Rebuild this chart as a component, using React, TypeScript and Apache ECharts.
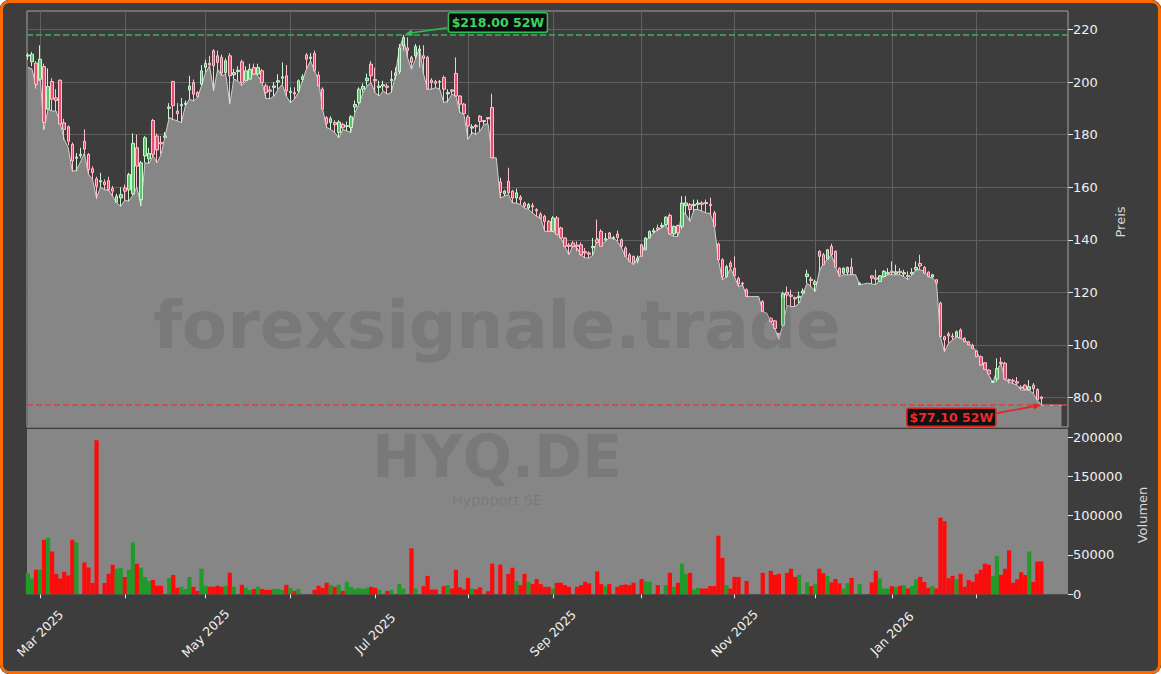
import React, { useEffect, useRef } from 'react';
import * as echarts from 'echarts';

// ---- x axis (trading-day index) ----
const monthTickIdx = [3, 24, 44, 65, 86, 109, 130, 152, 175, 195, 214, 235];
const labelIdx = [3, 44, 86, 130, 175, 214];
const labelText = ['Mar 2025', 'May 2025', 'Jul 2025', 'Sep 2025', 'Nov 2025', 'Jan 2026'];
const priceTicks = [80, 100, 120, 140, 160, 180, 200, 220];
const volTicks = [0, 50000, 100000, 150000, 200000];

// ---- price data ----
const openP = [
  209.9, 207.7, 207.2, 201.1, 205.9, 189.7, 200.2, 194, 200.7, 184.5,
  183, 176.3, 171, 172, 177.5, 172.5, 167, 163.2, 162, 162,
  162.5, 159.5, 154.3, 155.9, 159.7, 159, 157.5, 175, 155.3, 171.9,
  170.8, 185.4, 179.5, 177, 179, 190, 200.2, 189, 191, 191.5,
  197, 199.8, 196, 199.2, 205.6, 207.2, 211.9, 210, 209.4, 203.6,
  210, 202.8, 204, 207.7, 200.5, 201.1, 205.5, 203, 204.3, 198.6,
  197, 198, 200, 201.5, 202.4, 196, 196, 196.6, 201, 210.3,
  209, 210.9, 202.6, 197.3, 186.5, 184.6, 184.6, 180.8, 183.9, 183.1,
  182.7, 190.5, 192.2, 197.3, 200.5, 206.8, 201, 197.9, 198.5, 198.5,
  200.5, 202.5, 204, 213.8, 213, 209.4, 210, 212, 210, 209.4,
  200.7, 200.2, 200, 201.7, 195.5, 197, 203.3, 194.7, 191.6, 186.7,
  182.5, 183.5, 187, 185, 186.5, 190.3, 171.2, 162, 157.5, 162.3,
  158.5, 155.9, 156.2, 154, 152.1, 153, 151.5, 149.8, 148.9, 147,
  143.2, 148.3, 144.5, 140.7, 138, 138.8, 138, 138.1, 135.5, 135,
  137, 140, 143.2, 140, 142.6, 140.5, 142.2, 140, 136.9, 134.3,
  133.7, 132, 138.1, 136.2, 140.7, 143, 144.5, 145, 145.8, 149.3,
  142.2, 145.4, 145, 153, 153.4, 153, 153.5, 154, 154.2, 153.5,
  150.2, 138.4, 132.4, 126, 131.1, 129.2, 125.3, 123.5, 121, 118.4,
  118.4, 118.4, 116.5, 112.1, 110.2, 109.2, 104.4, 107.5, 120, 119,
  118, 118, 119.7, 126, 125, 123, 135.6, 134.3, 132.6, 137.5,
  135.6, 129.2, 127.3, 127.6, 129.6, 126.7, 122.9, 123.2, 123.5, 126.3,
  125.5, 124.1, 126, 127, 128, 127.2, 128, 127, 126.5, 127,
  128.6, 131, 129.5, 127.7, 125.8, 124.8, 115.9, 103.1, 104.2, 103.4,
  103.1, 105.7, 102.5, 101.2, 99.9, 97.7, 95.5, 93.2, 90.4, 85.8,
  87, 93.4, 93, 86.8, 86.5, 86, 84, 84.7, 82.9, 84.7,
  83, 80.2,
];
const closeP = [
  210.3, 210.6, 199.2, 208.7, 184.6, 198.3, 193.5, 193, 184, 182,
  177.5, 170, 171.5, 172.5, 174.5, 166.7, 165.5, 160.4, 162.5, 161,
  159.1, 158.5, 156.6, 157.2, 158.5, 164.8, 176.7, 168, 169.3, 178.8,
  172.8, 172.5, 174.2, 176.5, 179.5, 190.5, 191, 188, 191.5, 192,
  198.5, 195.4, 194.5, 204.3, 207.1, 206.5, 206.2, 207.5, 203.4, 208.1,
  202.4, 203.6, 204.5, 199.8, 204.3, 204.9, 203, 205.5, 199.8, 196,
  196.5, 198.5, 200.5, 202, 196.6, 196.5, 195.5, 200.5, 202, 208.7,
  209.5, 204.3, 198.6, 189.7, 184.3, 186.1, 183.8, 184.8, 182.6, 183.4,
  186.8, 191.5, 197.3, 198.3, 201.5, 202.4, 200.5, 198.5, 199, 198,
  201, 203.5, 213, 217, 212, 207.5, 213.5, 212.5, 209, 197.3,
  199.8, 199.5, 200.2, 197.3, 196, 196.5, 194.7, 191.6, 188, 183.3,
  183, 183, 185, 185.3, 186, 171.2, 171.2, 158, 158.5, 157.9,
  155.9, 157.9, 155.3, 152.8, 153.4, 152.5, 151, 148.1, 147, 143.2,
  148.3, 142, 140.7, 137.5, 137.5, 137.5, 137.5, 134.3, 135, 134.5,
  137.5, 139, 137.5, 140.5, 140.7, 140.8, 140.9, 137.5, 133.7, 131.8,
  131.1, 133, 133.7, 140.7, 143.2, 143.5, 144, 145.5, 148.6, 142.2,
  145.1, 142.6, 154, 154, 151.5, 153.5, 154, 153.5, 153.8, 153,
  145.1, 132.4, 126, 129.8, 129.6, 126.3, 123.2, 123.2, 118.4, 118.4,
  118.4, 118.4, 112.7, 112.1, 108.9, 106.3, 103.8, 119.5, 119, 118.5,
  117.5, 118.5, 120.5, 127, 124.5, 124, 133.7, 130.5, 136.2, 134.3,
  129.6, 126.7, 129.2, 129.5, 126.9, 126.7, 123.5, 123.2, 123.5, 125.4,
  125, 126.3, 128, 127.5, 127.5, 127.8, 127.5, 127.5, 126, 127.6,
  129.5, 130, 127.3, 126, 126.7, 123.5, 103.1, 101.9, 103.4, 103,
  105, 102.5, 101.2, 100, 98.7, 95.5, 92.3, 90.7, 88.9, 86,
  91, 93, 87, 86.5, 86.2, 85.5, 83.5, 83.1, 84.1, 83.4,
  79.2, 79.6,
];
const highP = [
  211, 211.5, 208, 214, 207, 205.2, 201.5, 197.3, 201, 186,
  183.5, 177, 173, 175, 182, 173, 168, 164, 165.5, 163,
  164, 160.5, 157.5, 160, 161, 165.5, 180.5, 180, 170, 179.5,
  175, 186, 180.5, 179.5, 181, 192, 200.5, 192, 194, 193,
  202.4, 201, 196.5, 206.5, 208.5, 210, 212.5, 212, 210.5, 209,
  211, 205, 206, 208.5, 206, 207, 207, 207, 205, 199.5,
  198.5, 200, 203, 207.5, 206.5, 198, 198, 201, 203, 211,
  211, 212, 204, 198, 187, 187, 185.5, 185.5, 184.5, 185,
  187.5, 193, 198, 199.5, 203.2, 208, 205.5, 200.5, 200.5, 199.5,
  204.3, 205.6, 214.5, 218, 217, 210, 214.5, 214, 214, 210,
  201.5, 200.8, 200.8, 202.5, 197.3, 197.3, 209.4, 195, 192, 187.5,
  184, 184, 187.5, 185.5, 186.5, 195.6, 171.2, 163.6, 159, 167.4,
  159, 159.5, 157, 154.5, 154, 154, 152, 150.5, 149.5, 147.5,
  149, 149, 145, 141, 138.8, 139.5, 139.4, 139, 136.9, 135.6,
  140.7, 147.7, 144, 142.6, 143, 141.5, 143.5, 140.5, 137.5, 135,
  134, 134, 138.5, 141, 143.5, 144.5, 145.8, 146.5, 149, 150,
  145.5, 145.8, 156.6, 156.6, 154, 155.3, 155.3, 154.7, 155.3, 156,
  151, 139, 133, 130.5, 132, 133.7, 126, 124, 121.5, 118.4,
  118.4, 118.4, 117, 112.1, 110.5, 109.5, 104.6, 120.3, 122.2, 121,
  118.4, 120.3, 121.5, 128.6, 126, 124.8, 136, 135, 136.5, 138.5,
  136, 129.5, 129.5, 129.8, 133, 126.7, 124, 123.2, 123.5, 126.5,
  128.6, 126.5, 128.5, 129.2, 131.8, 130.5, 129.2, 128.6, 128, 129.2,
  131.8, 134.3, 130, 128, 127, 125, 116.5, 103.5, 105, 104.5,
  105.5, 106.3, 103, 101.5, 100.5, 98, 96, 93.5, 90.8, 86.5,
  94.9, 95.3, 93.6, 87.2, 87.2, 87.8, 84.7, 85, 86.6, 85.5,
  83.5, 80.5,
];
const lowP = [
  208.5, 206, 197.5, 200.5, 181.8, 189.5, 189, 189, 184, 178,
  176, 166, 166, 171, 172, 165, 163, 155.5, 160, 159,
  158.5, 156.5, 154, 152.8, 155, 154.6, 157, 160, 152.8, 169.3,
  169, 171.5, 169.3, 172.5, 179, 186, 185.5, 185.2, 184.6, 190.9,
  193.5, 192.8, 194, 198.6, 203.6, 206, 196.6, 204.9, 202.4, 203,
  191.6, 201.1, 200.5, 198.6, 200.5, 201, 202.8, 202.4, 199.8, 193.7,
  193.7, 194.7, 197.3, 199.2, 194.7, 192.2, 193.5, 196, 200, 205,
  208, 204, 198.5, 189.7, 182.6, 182, 180.8, 178.8, 182, 181.4,
  180.8, 188.4, 191.5, 196, 198.6, 199.8, 196, 194.7, 196.7, 195.4,
  196, 201, 203, 212, 209.4, 204.9, 208.7, 205.5, 203, 197,
  197.3, 197.9, 197.3, 192.2, 192.2, 195.4, 194.5, 188.4, 187.7, 178.2,
  180, 180, 181.4, 184, 184, 171, 171.2, 155.9, 156.6, 157.2,
  154, 154, 153.4, 152.1, 151.5, 150.2, 148.9, 148, 143.2, 143,
  143, 141.8, 140.5, 137.3, 134.3, 137, 135.6, 134, 133, 133,
  134, 138.5, 137.5, 139.4, 140.5, 140, 139.4, 136.9, 133.5, 131.5,
  130.5, 131, 133.5, 136, 140.5, 142.5, 143.2, 144.5, 145.5, 142,
  141.3, 141.3, 144, 149.6, 147, 151, 151.5, 150.9, 150.2, 149.6,
  145, 132, 124.8, 125.5, 129, 126, 122.2, 122.5, 118.2, 118.4,
  118.4, 118.4, 112.5, 112.1, 108.7, 106, 102.1, 106.9, 115, 114.6,
  114.6, 115.9, 119.5, 123.5, 122.2, 120.3, 128, 130.4, 132.4, 134,
  129.6, 126, 126.7, 126.7, 126.7, 126.7, 122.8, 123.2, 123.5, 123.2,
  122.9, 124, 126, 126.7, 126.7, 126.7, 126.7, 126, 124.8, 126.7,
  128.6, 128.6, 127, 125.8, 125.4, 123.4, 103, 97.4, 100.6, 101.9,
  103, 102.4, 101, 99.8, 98.5, 95.4, 92.2, 90.5, 88.5, 85.6,
  86, 92.5, 86.6, 85.3, 85.3, 84.7, 82.8, 82.8, 82.8, 81.5,
  79, 77.1,
];
// grey area line (last values continue the flat 52W-low level)
const areaP = [
  205.6, 205, 198.5, 202.5, 182, 189.7, 189, 189, 184.3, 178.2,
  175, 166, 166.5, 169.5, 173, 165, 163, 156, 160, 159,
  159, 156.5, 154, 152.8, 155, 154.7, 157, 160, 153, 169.3,
  169, 172, 169.3, 172.5, 179.5, 186.5, 185.8, 185.2, 184.6, 190.9,
  193.5, 192.8, 194.1, 198.6, 203.6, 206.2, 196.6, 204.9, 202.4, 203,
  191.6, 201.1, 200.5, 198.6, 200.5, 201.7, 203.6, 202.4, 199.8, 193.7,
  193.7, 194.7, 197.3, 199.2, 194.7, 192.2, 193.5, 196, 200.5, 205,
  208.1, 204.3, 200.5, 189.7, 182.7, 182, 180.8, 178.8, 182, 181.4,
  180.8, 188.4, 191.6, 196, 198.6, 199.8, 196, 194.7, 196.7, 195.4,
  196, 202.4, 213, 217, 209.4, 204.9, 208.7, 213, 203, 197.3,
  197.3, 197.9, 197.3, 192.2, 192.8, 195.4, 194.7, 188.4, 187.7, 178.2,
  180.8, 180.1, 181.4, 184, 184, 171.2, 171.2, 155.9, 156.6, 157.2,
  154, 154, 153.4, 152.1, 151.5, 150.2, 148.9, 148.3, 143.2, 143.2,
  143.2, 142, 140.7, 137.5, 134.3, 138.1, 136.9, 134.3, 133.1, 133.1,
  134.3, 140.7, 138.1, 139.4, 140.7, 140.7, 139.4, 136.9, 133.7, 131.8,
  130.5, 133.1, 134.3, 139.4, 141.3, 142.6, 143.9, 144.5, 145.8, 142,
  141.3, 141.3, 150.9, 149.6, 147, 151.5, 151.5, 150.9, 150.2, 150,
  145.5, 132.4, 124.8, 126, 129.2, 126, 122.2, 122.9, 118.4, 118.4,
  118.4, 118.4, 112.7, 112.1, 108.9, 106.3, 102.1, 108, 115, 114.6,
  114.6, 115.9, 119.7, 123.5, 122.2, 120.3, 128, 131, 132.4, 134.3,
  129.9, 126, 126.7, 126.7, 126.7, 126.7, 122.9, 123.2, 123.5, 123.2,
  122.9, 124.8, 126, 126.7, 126.7, 126.7, 126.7, 126, 124.8, 126.7,
  128.6, 128.6, 128, 126, 125.4, 124.1, 103.1, 97.4, 100.6, 101.9,
  103.1, 102.5, 101.9, 100.6, 99.3, 97.4, 94.2, 91.7, 88.5, 85.6,
  90.4, 92.9, 86.6, 86, 85.3, 84.7, 82.8, 82.8, 82.8, 81.5,
  79, 77.1, 77.1, 77.1, 77.1, 77.1, 77.1,
];
const volume = [
  26800, 20400, 31200, 31200, 69300, 72000, 54600, 26000, 20000, 28600,
  23800, 69300, 66200, 0, 40300, 34200, 14300, 196000, 0, 14300,
  26000, 37700, 32500, 33800, 22100, 31200, 66200, 39000, 33800, 22100,
  16900, 18200, 10800, 10800, 0, 20800, 24700, 8200, 9500, 6900,
  22100, 9500, 4300, 32500, 10800, 9500, 9500, 10800, 9500, 10800,
  27300, 9500, 0, 12100, 8200, 5600, 6900, 9500, 6900, 5600,
  5600, 6900, 6900, 5600, 12100, 8200, 4300, 6900, 0, 0,
  0, 5600, 10800, 8200, 14700, 12100, 9500, 12100, 4300, 16000,
  9500, 6900, 8200, 6900, 8200, 9500, 8200, 5600, 0, 4300,
  5600, 0, 13400, 7400, 0, 58500, 7400, 0, 10400, 23400,
  6100, 6100, 0, 10400, 11700, 7400, 31200, 8700, 6100, 20800,
  7400, 6100, 8700, 0, 3900, 39000, 0, 37700, 0, 26000,
  33800, 16900, 11700, 26000, 15600, 13000, 19500, 13000, 9500, 9500,
  7400, 14700, 14700, 11700, 9500, 0, 9500, 11700, 16000, 13900,
  0, 29000, 13000, 10400, 13000, 0, 9500, 11700, 12500, 11700,
  14700, 0, 19500, 16500, 16000, 0, 11700, 0, 11700, 27300,
  9500, 14700, 39000, 26000, 27300, 6100, 8200, 7400, 7400, 10400,
  10400, 74500, 46300, 11700, 7400, 22100, 22100, 0, 16900, 0,
  0, 0, 27300, 0, 29900, 24700, 26000, 0, 27300, 32500,
  22100, 24700, 0, 15200, 10400, 13000, 32500, 26800, 23400, 15200,
  19500, 13900, 7400, 14300, 20800, 0, 13000, 0, 0, 15200,
  29900, 20400, 7400, 7400, 10400, 9500, 10800, 11700, 7400, 10400,
  19000, 22100, 15600, 8200, 10400, 7400, 97500, 93000, 20400, 23400,
  19500, 26000, 9500, 18200, 16000, 26000, 31200, 39000, 37700, 23400,
  48500, 24700, 32500, 55900, 14700, 19000, 28100, 24700, 54600, 15600,
  41600, 41600,
];

const BG = '#3d3d3d';
const FILL = '#868686';
const UP_BODY = '#5cc46a';
const UP_EDGE = '#c9f5cf';
const DOWN_BODY = '#e9506f';
const DOWN_EDGE = '#ffc2cf';
const UP_VOL = '#229a2a';
const DOWN_VOL = '#ff0a0a';
const WATERMARK = 'rgba(40,40,40,0.14)';
const FONT = '"DejaVu Sans", Verdana, sans-serif';

const X_MIN = -0.22;
const X_MAX = 257.6;

function arrow(x1: number, y1: number, x2: number, y2: number, color: string) {
  const dx = x2 - x1;
  const dy = y2 - y1;
  const len = Math.sqrt(dx * dx + dy * dy);
  const ux = dx / len;
  const uy = dy / len;
  const hl = 7;
  const hw = 3.2;
  const bx = x2 - ux * hl;
  const by = y2 - uy * hl;
  return [
    {
      type: 'line',
      shape: { x1, y1, x2: bx, y2: by },
      style: { stroke: color, lineWidth: 1.6 },
      z: 120,
    },
    {
      type: 'polygon',
      shape: {
        points: [
          [x2, y2],
          [bx - uy * hw, by + ux * hw],
          [bx + uy * hw, by - ux * hw],
        ],
      },
      style: { fill: color },
      z: 120,
    },
  ];
}

function textEl(x: number, y: number, text: string, font: string, fill: string, rotation = 0, z = 100) {
  return {
    type: 'text',
    x,
    y,
    rotation,
    z,
    style: {
      text,
      font,
      fill,
      align: 'center',
      verticalAlign: 'middle',
      textAlign: 'center',
      textVerticalAlign: 'middle',
    },
  };
}

export default function App() {
  const ref = useRef<HTMLDivElement>(null);

  useEffect(() => {
    const el = ref.current;
    if (!el) return;
    const chart = echarts.init(el, undefined, { renderer: 'svg' });

    const candleData: number[][] = [];
    for (let i = 0; i < openP.length; i++) {
      if (highP[i] === lowP[i]) continue;
      candleData.push([i, openP[i], closeP[i], lowP[i], highP[i]]);
    }
    const areaData = areaP.map((v, i) => [i, v]);
    const volData = volume
      .map((v, i) => ({
        value: [i, v],
        itemStyle: { color: closeP[i] >= openP[i] ? UP_VOL : DOWN_VOL },
      }))
      .filter((d) => d.value[1] > 0);

    let hiIdx = 0;
    let loIdx = 0;
    for (let i = 0; i < highP.length; i++) {
      if (highP[i] > highP[hiIdx]) hiIdx = i;
      if (lowP[i] < lowP[loIdx]) loIdx = i;
    }
    const hi52 = highP[hiIdx];
    const lo52 = lowP[loIdx];

    const xCommon = {
      type: 'value',
      min: X_MIN,
      max: X_MAX,
    };

    chart.setOption({
      animation: false,
      backgroundColor: BG,
      textStyle: { fontFamily: FONT },
      grid: [
        {
          left: 27,
          right: 93,
          top: 11,
          height: 416,
          show: true,
          borderColor: '#a4a4a4',
          borderWidth: 1,
          backgroundColor: 'transparent',
        },
        {
          left: 27,
          right: 93,
          top: 429,
          height: 165.3,
          show: true,
          borderWidth: 0,
          backgroundColor: FILL,
        },
      ],
      xAxis: [
        {
          ...xCommon,
          gridIndex: 0,
          axisLine: { show: false, onZero: false },
          axisTick: { show: false, customValues: monthTickIdx },
          axisLabel: { show: false, customValues: monthTickIdx },
          splitLine: { show: true, lineStyle: { color: '#606060', width: 1 } },
        },
        {
          ...xCommon,
          gridIndex: 1,
          axisLine: { show: false, onZero: false },
          axisTick: {
            show: true,
            customValues: monthTickIdx,
            length: 4,
            inside: false,
            lineStyle: { color: '#e6e6e6', width: 1 },
          },
          axisLabel: {
            show: true,
            customValues: labelIdx,
            rotate: 45,
            margin: 39,
            align: 'center',
            verticalAlign: 'middle',
            color: '#f0f0f0',
            fontSize: 12.5,
            fontFamily: FONT,
            formatter: (v: number) => {
              const k = labelIdx.indexOf(Math.round(v));
              return k >= 0 ? labelText[k] : '';
            },
          },
          splitLine: { show: false },
        },
      ],
      yAxis: [
        {
          type: 'value',
          gridIndex: 0,
          position: 'right',
          min: 68.78,
          max: 227.04,
          minInterval: 20,
          maxInterval: 20,
          axisLine: { show: false, onZero: false },
          axisTick: {
            show: true,
            customValues: priceTicks,
            length: 5,
            lineStyle: { color: '#e6e6e6' },
          },
          axisLabel: {
            show: true,
            customValues: priceTicks,
            color: '#f0f0f0',
            fontSize: 13,
            fontFamily: FONT,
            margin: 5,
            formatter: (v: number) => (v === 80 ? '80.0' : String(v)),
          },
          splitLine: { show: true, lineStyle: { color: '#606060', width: 1 } },
        },
        {
          type: 'value',
          gridIndex: 1,
          position: 'right',
          min: 0,
          max: 210300,
          interval: 50000,
          axisLine: { show: false, onZero: false },
          axisTick: {
            show: true,
            customValues: volTicks,
            length: 5,
            lineStyle: { color: '#e6e6e6' },
          },
          axisLabel: {
            show: true,
            customValues: volTicks,
            color: '#f0f0f0',
            fontSize: 13,
            fontFamily: FONT,
            margin: 5,
            formatter: (v: number) => String(v),
          },
          splitLine: { show: false },
        },
      ],
      series: [
        {
          name: 'area',
          type: 'line',
          xAxisIndex: 0,
          yAxisIndex: 0,
          data: areaData,
          showSymbol: false,
          symbol: 'none',
          z: 2,
          lineStyle: { color: '#cfcfcf', width: 1 },
          areaStyle: { color: FILL, opacity: 1, origin: 'start' },
        },
        {
          name: 'candles',
          type: 'candlestick',
          xAxisIndex: 0,
          yAxisIndex: 0,
          data: candleData,
          encode: { x: 0, y: [1, 2, 3, 4] },
          barWidth: 3,
          z: 3,
          itemStyle: {
            color: UP_BODY,
            color0: DOWN_BODY,
            borderColor: UP_EDGE,
            borderColor0: DOWN_EDGE,
            borderWidth: 1,
          },
          markLine: {
            silent: true,
            symbol: ['none', 'none'],
            label: { show: false },
            data: [
              { yAxis: hi52, lineStyle: { color: '#3fae62', width: 1.5, type: [6, 3] } },
              { yAxis: lo52, lineStyle: { color: '#e23b3b', width: 1.5, type: [6, 3] } },
            ],
          },
        },
        {
          name: 'volume',
          type: 'bar',
          xAxisIndex: 1,
          yAxisIndex: 1,
          data: volData,
          barWidth: 4.2,
          z: 3,
        },
      ],
    });

    const hp = chart.convertToPixel({ gridIndex: 0 }, [hiIdx, hi52]) as number[];
    const lp = chart.convertToPixel({ gridIndex: 0 }, [loIdx, lo52]) as number[];

    const hiBox = { x: hp[0] + 45, y: hp[1] - 22, w: 99, h: 19.5 };
    const loBox = { x: lp[0] - 134.5, y: lp[1] + 3, w: 89, h: 18 };

    const graphics: any[] = [
      textEl(497, 325, 'forexsignale.trade', `bold 66px ${FONT}`, WATERMARK),
      textEl(497, 457, 'HYQ.DE', `bold 58px ${FONT}`, WATERMARK),
      textEl(497, 500, 'Hypoport SE', `14.5px ${FONT}`, WATERMARK),
      textEl(1120, 222, 'Preis', `13px ${FONT}`, '#d8d8d8', Math.PI / 2),
      textEl(1142, 515, 'Volumen', `13px ${FONT}`, '#d8d8d8', Math.PI / 2),
      {
        type: 'rect',
        shape: { x: hiBox.x, y: hiBox.y, width: hiBox.w, height: hiBox.h, r: 2 },
        style: { fill: 'rgba(8,8,8,0.92)', stroke: '#2fbf55', lineWidth: 1.5 },
        z: 110,
      },
      textEl(hiBox.x + hiBox.w / 2, hiBox.y + hiBox.h / 2, '$218.00 52W', `bold 12.5px ${FONT}`, '#3ad466', 0, 115),
      ...arrow(hiBox.x - 1, hiBox.y + 15, hp[0] + 2, hp[1] - 1, '#2fbf55'),
      {
        type: 'rect',
        shape: { x: loBox.x, y: loBox.y, width: loBox.w, height: loBox.h, r: 2 },
        style: { fill: 'rgba(8,8,8,0.92)', stroke: '#e02424', lineWidth: 1.5 },
        z: 110,
      },
      textEl(loBox.x + loBox.w / 2, loBox.y + loBox.h / 2, '$77.10 52W', `bold 12.5px ${FONT}`, '#f02a2a', 0, 115),
      ...arrow(loBox.x + loBox.w + 1, loBox.y + 5, lp[0] - 1, lp[1], '#e02424'),
    ];
    chart.setOption({ graphic: graphics });

    return () => {
      chart.dispose();
    };
  }, []);

  return (
    <div
      style={{
        position: 'absolute',
        left: 0,
        top: 0,
        width: 1161,
        height: 674,
        borderRadius: 9,
        overflow: 'hidden',
        background: BG,
      }}
    >
      <div ref={ref} style={{ position: 'absolute', left: 0, top: 0, width: 1161, height: 674 }} />
      <div
        style={{
          position: 'absolute',
          left: 0,
          top: 0,
          width: 1161,
          height: 674,
          boxSizing: 'border-box',
          border: '3px solid #ff6a00',
          borderRadius: 9,
          pointerEvents: 'none',
        }}
      />
    </div>
  );
}
